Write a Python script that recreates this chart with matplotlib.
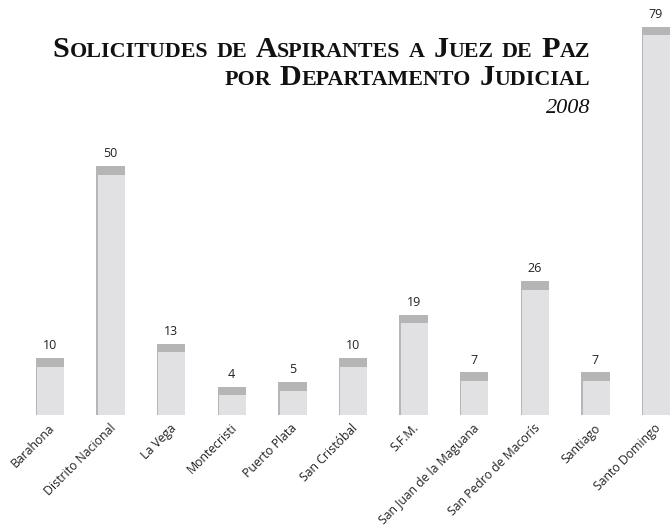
import numpy as np
import matplotlib
matplotlib.use('Agg')
import matplotlib.pyplot as plt
import matplotlib.transforms as mtransforms

# datos
departamentos = ['Barahona', 'Distrito Nacional', 'La Vega', 'Montecristi',
                 'Puerto Plata', 'San Cristóbal', 'S.F.M.', 'San Juan de la Maguana',
                 'San Pedro de Macorís', 'Santiago', 'Santo Domingo']
solicitudes = [10, 50, 13, 4, 5, 10, 19, 7, 26, 7, 79]

titulo = ['Solicitudes de Aspirantes a Juez de Paz', 'por Departamento Judicial']
anio = '2008'

W, H = 670, 527
fig = plt.figure(figsize=(W / 100, H / 100), dpi=100)
fig.patch.set_facecolor('white')

# ejes: cero en ~406px desde arriba, base de barra en 415px
y0 = 406
ppu = 4.8
base_px = 415
ax = fig.add_axes([0, (H - base_px) / H, 1, base_px / H])
ymin = -(base_px - y0) / ppu
ax.set_ylim(ymin, y0 / ppu)
xs = np.arange(len(departamentos))
ax.set_xlim(-50 / 60.6, (W - 50) / 60.6)
ax.axis('off')

ancho = 0.47
cap = 1.8
vals = np.array(solicitudes, dtype=float)
ax.bar(xs, vals - ymin, bottom=ymin, width=ancho, color='#e1e1e3', lw=0, zorder=2)
ax.bar(xs, np.full(len(xs), cap), bottom=vals - cap, width=ancho, color='#b5b5b6', lw=0, zorder=3)
# sombra lateral
ax.bar(xs - ancho / 2 + 0.012, vals - ymin - cap, bottom=ymin, width=0.025,
       color='#9a9a9c', lw=0, zorder=3, alpha=0.6)

for x, v in zip(xs, solicitudes):
    ax.text(x, v + 1.2, str(v), ha='center', va='bottom', fontsize=9,
            family='Open Sans', color='#222222')

# etiquetas del eje x
for x, d in zip(xs, departamentos):
    ax.annotate(d, xy=(x + 0.05, ymin), xycoords='data', xytext=(0, -8),
                textcoords='offset points', rotation=45, ha='right', va='center',
                rotation_mode='anchor', fontsize=8.8, family='Open Sans',
                color='#222222')

# titulo en versalitas
px = mtransforms.IdentityTransform()
renderer = fig.canvas.get_renderer()


def versalitas(texto, x_der, y_base, big, small):
    piezas = []
    for palabra in texto.split(' '):
        runs = []
        for ch in palabra:
            grande = ch.isupper()
            if runs and runs[-1][1] == grande:
                runs[-1][0] += ch
            else:
                runs.append([ch, grande])
        piezas.append(runs)
    espacio = big * 100 / 72 * 0.28
    objs = []
    total = 0
    for i, runs in enumerate(piezas):
        if i > 0:
            total += espacio
        for s, grande in runs:
            t = fig.text(0, 0, s.upper(), fontsize=big if grande else small,
                         family='Liberation Serif', weight='bold', color='#111111',
                         transform=px, ha='left', va='baseline')
            w = t.get_window_extent(renderer).width
            objs.append((t, total))
            total += w
    x0 = x_der - total
    for t, off in objs:
        t.set_position((x0 + off, y_base))


versalitas(titulo[0], 590, H - 57, 21.7, 15.8)
versalitas(titulo[1], 590, H - 85, 21.7, 15.8)
fig.text(590, H - 113, anio, transform=px, ha='right', va='baseline',
         fontsize=16, family='Liberation Serif', style='italic', color='#111111')

fig.savefig('out.png', dpi=100, facecolor='white')
